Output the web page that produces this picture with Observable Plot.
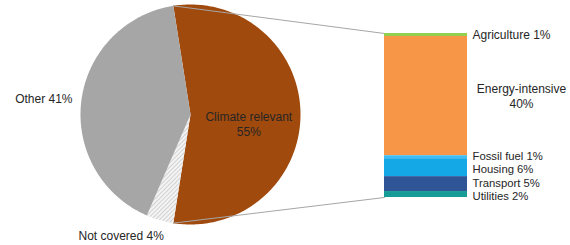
<!DOCTYPE html>
<html>
<head>
<meta charset="utf-8">
<script src="https://cdn.jsdelivr.net/npm/d3@7"></script>
<script src="https://cdn.jsdelivr.net/npm/@observablehq/plot@0.6"></script>
<style>
  html, body { margin: 0; padding: 0; background: #fff; }
  #chart svg { display: block; }
</style>
</head>
<body>
<div id="chart"></div>
<script>
// ---- data ----
const pieLabels = ["Climate relevant", "Not covered", "Other"];
const pieValues = [55, 4, 41];
const pieColors = ["#A14A0D", "url(#hatch)", "#A6A6A6"];

const barLabels = ["Agriculture", "Energy-intensive", "Fossil fuel", "Housing", "Transport", "Utilities"];
const barValues = [1, 40, 1, 6, 5, 2];
const barColors = ["#92D050", "#F79646", "#3DBDF2", "#14A8E6", "#2F5597", "#169C97"];

// ---- layout ----
const W = 570, H = 245;
const cx = 190, cy = 114, R = 110;
const barX1 = 384, barX2 = 467, barTop = 33, barBottom = 197;
const total = d3.sum(pieValues);
const deg = Math.PI / 180;
// climate slice centred on the right-hand side
const start = (90 - (pieValues[0] / total * 360) / 2) * deg;

const pt = (a, r) => ({x: cx + r * Math.sin(a), y: cy - r * Math.cos(a)});

let acc = start;
const slices = pieValues.map((v, i) => {
  const a0 = acc, a1 = acc + v / total * 2 * Math.PI;
  acc = a1;
  const n = Math.max(4, Math.ceil((a1 - a0) / (1 * deg)));
  const pts = [pt(0, 0)];
  for (let k = 0; k <= n; k++) pts.push(pt(a0 + (a1 - a0) * k / n, R));
  pts.push(pt(0, 0));
  return {label: pieLabels[i], value: v, color: pieColors[i], a0, a1, pts};
});

const barSum = d3.sum(barValues);
const yBar = d3.scaleLinear().domain([0, barSum]).range([barTop, barBottom]);
let cum = 0;
const segs = barValues.map((v, i) => {
  const s = {label: barLabels[i], value: v, color: barColors[i], y1: yBar(cum), y2: yBar(cum + v)};
  cum += v;
  return s;
});

const climate = slices[0];
const pTop = pt(climate.a0, R), pBot = pt(climate.a1, R);
const connectors = [
  [pTop, {x: barX1, y: barTop}],
  [pBot, {x: barX1, y: barBottom}]
];

const font = "Liberation Sans, Arial, sans-serif";
const txt = "#262626";

const marks = [];
slices.forEach(s => marks.push(Plot.line(s.pts, {x: "x", y: "y", fill: s.color, stroke: "none", curve: "linear"})));
connectors.forEach(c => marks.push(Plot.line(c, {x: "x", y: "y", stroke: "#A6A6A6", strokeWidth: 1})));
marks.push(Plot.rect(segs, {x1: () => barX1, x2: () => barX2, y1: "y1", y2: "y2", fill: "color"}));

// pie labels
marks.push(Plot.text([climate], {
  x: d => pt((d.a0 + d.a1) / 2, R * 0.53).x, y: d => pt((d.a0 + d.a1) / 2, 0).y + 9,
  text: d => `${d.label}\n${d.value}%`, textAnchor: "middle", lineAnchor: "middle",
  fill: txt, fontSize: 12, fontFamily: font, lineHeight: 1.25
}));
marks.push(Plot.text([slices[2]], {
  x: () => 72, y: () => 99, text: d => `${d.label} ${d.value}%`, textAnchor: "end",
  fill: txt, fontSize: 12, fontFamily: font
}));
marks.push(Plot.text([slices[1]], {
  x: () => 78, y: () => 236, text: d => `${d.label} ${d.value}%`, textAnchor: "start",
  fill: txt, fontSize: 12, fontFamily: font
}));

// bar labels: small segments get tighter, slightly smaller labels, nudged apart
const nudge = {"Agriculture": 0.5, "Fossil fuel": -0.7, "Housing": 1.5, "Transport": -0.5, "Utilities": 2};
const single = segs.filter(s => s.label !== "Energy-intensive");
marks.push(Plot.text(single, {
  x: () => barX2 + 5, y: d => (d.y1 + d.y2) / 2 + nudge[d.label],
  text: d => `${d.label} ${d.value}%`, textAnchor: "start",
  fill: txt, fontSize: d => d.label === "Agriculture" ? 12 : 11.3, fontFamily: font
}));
marks.push(Plot.text(segs.filter(s => s.label === "Energy-intensive"), {
  x: () => 521, y: d => (d.y1 + d.y2) / 2, text: d => `${d.label}\n${d.value}%`,
  textAnchor: "middle", lineAnchor: "middle", lineHeight: 1.25,
  fill: txt, fontSize: 12, fontFamily: font
}));

const chart = Plot.plot({
  width: W, height: H,
  margin: 0,
  style: {background: "#fff", fontFamily: font},
  x: {type: "linear", domain: [0, W], range: [0, W], axis: null},
  y: {type: "linear", domain: [0, H], range: [0, H], axis: null},
  color: {type: "identity"},
  marks
});

// hatch pattern for "Not covered"
const svgNS = "http://www.w3.org/2000/svg";
const defs = document.createElementNS(svgNS, "defs");
defs.innerHTML = `<pattern id="hatch" patternUnits="userSpaceOnUse" width="3" height="3" patternTransform="rotate(45)">
  <rect width="3" height="3" fill="#F4F4F4"/>
  <line x1="0" y1="0" x2="0" y2="3" stroke="#B4B4B4" stroke-width="1.1"/>
</pattern>`;
chart.insertBefore(defs, chart.firstChild);

document.getElementById("chart").appendChild(chart);
</script>
</body>
</html>
